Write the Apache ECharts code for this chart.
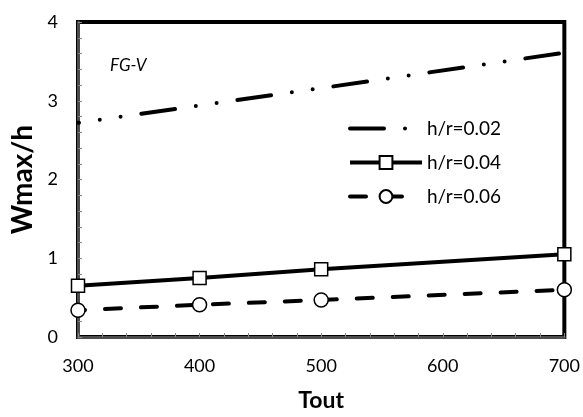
<!DOCTYPE html>
<html>
<head>
<meta charset="utf-8">
<script src="https://cdn.jsdelivr.net/npm/echarts@6/dist/echarts.min.js"></script>
<style>
  html, body { margin: 0; padding: 0; background: #fff; }
  #chart { width: 583px; height: 417px; }
</style>
</head>
<body>
<div id="chart"></div>
<script>
var toutValues = [300, 400, 500, 700];       // X轴数据
var hr002 = [2.72, 2.94, 3.16, 3.61];        // h/r=0.02
var hr004 = [0.65, 0.75, 0.86, 1.05];        // h/r=0.04
var hr006 = [0.34, 0.41, 0.47, 0.60];        // h/r=0.06
var seriesNames = ['h/r=0.02', 'h/r=0.04', 'h/r=0.06'];

var FONT = 'Lato, "DejaVu Sans", sans-serif';

function pairs(ys) {
    var out = [];
    for (var i = 0; i < toutValues.length; i++) {
        out.push([toutValues[i], ys[i]]);
    }
    return out;
}

var chart = echarts.init(document.getElementById('chart'));

var option = {
    backgroundColor: '#fff',
    animation: false,
    grid: {
        left: 78, right: 18, top: 22, bottom: 74,
        show: true,
        borderColor: '#000',
        borderWidth: 4,
        backgroundColor: 'transparent'
    },
    legend: {
        left: 343,
        top: 114,
        orient: 'vertical',
        itemWidth: 72,
        itemHeight: 16,
        itemGap: 15,
        textStyle: { fontFamily: FONT, fontSize: 19, color: '#000' },
        data: [
            // 图例里的点划线从头开始, 不要点
            { name: seriesNames[0], itemStyle: { opacity: 0 }, lineStyle: { width: 4, dashOffset: 0 } },
            { name: seriesNames[1], lineStyle: { width: 4 } },
            { name: seriesNames[2], lineStyle: { width: 4, dashOffset: 0 } }
        ]
    },
    xAxis: {
        type: 'value',
        min: 300, max: 700, interval: 100,
        name: 'Tout',
        nameLocation: 'middle',
        nameGap: 52,
        nameTextStyle: { fontFamily: FONT, fontSize: 23, fontWeight: 'bold', color: '#000' },
        axisLine: { show: true, lineStyle: { color: '#4d4d4d', width: 3 } },
        axisTick: { show: true, inside: true, length: 4, lineStyle: { color: '#888' } },
        minorTick: { show: true, splitNumber: 5, length: 4, lineStyle: { color: '#888' } },
        axisLabel: { fontFamily: FONT, fontSize: 18, color: '#000', margin: 20 },
        splitLine: { show: false }
    },
    yAxis: {
        type: 'value',
        min: 0, max: 4, interval: 1,
        name: 'Wmax/h',
        nameLocation: 'middle',
        nameGap: 38,
        nameTextStyle: { fontFamily: FONT, fontSize: 28, fontWeight: 'bold', color: '#000' },
        axisLine: { show: true, lineStyle: { color: '#4d4d4d', width: 3 } },
        axisTick: { show: true, inside: true, length: 4, lineStyle: { color: '#888' } },
        minorTick: { show: true, splitNumber: 5, length: 4, lineStyle: { color: '#888' } },
        axisLabel: { fontFamily: FONT, fontSize: 18, color: '#000', margin: 20 },
        splitLine: { show: false }
    },
    graphic: [{
        type: 'text',
        left: 110,
        top: 57,
        style: { text: 'FG-V', fontFamily: FONT, fontSize: 17, fontStyle: 'italic', fill: '#000' }
    }],
    series: [
        {
            name: seriesNames[0],
            type: 'line',
            data: pairs(hr002),
            symbol: 'none',
            clip: false,
            color: '#000',
            lineStyle: { color: '#000', width: 4, cap: 'round', type: [34, 21, 0, 21, 0, 21], dashOffset: 33 }
        },
        {
            name: seriesNames[1],
            type: 'line',
            data: pairs(hr004),
            symbol: 'rect',
            symbolSize: 13,
            clip: false,
            color: '#000',
            lineStyle: { color: '#000', width: 4 },
            itemStyle: { color: '#fff', borderColor: '#000', borderWidth: 1.5 }
        },
        {
            name: seriesNames[2],
            type: 'line',
            data: pairs(hr006),
            symbol: 'circle',
            symbolSize: 14,
            clip: false,
            color: '#000',
            lineStyle: { color: '#000', width: 4, cap: 'round', type: [16, 20], dashOffset: 9 },
            itemStyle: { color: '#fff', borderColor: '#000', borderWidth: 1.5 }
        }
    ]
};

chart.setOption(option);
</script>
</body>
</html>
